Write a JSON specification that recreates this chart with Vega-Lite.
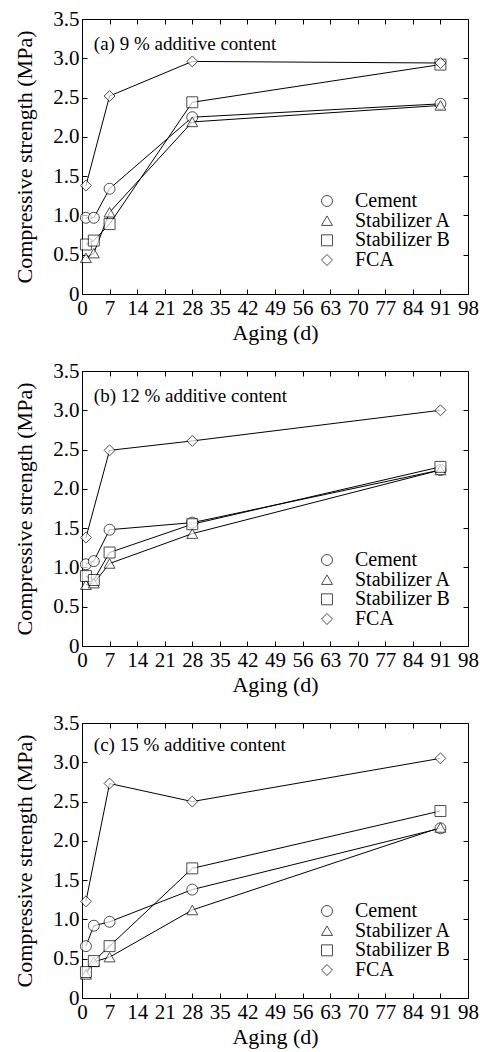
{
  "$schema": "https://vega.github.io/schema/vega-lite/v6.json",
  "background": "white",
  "padding": {"left": 13, "top": 7, "right": 4, "bottom": 4},
  "spacing": 15,
  "datasets": {
    "keys": [{"series": "Cement"}, {"series": "Stabilizer A"}, {"series": "Stabilizer B"}, {"series": "FCA"}],
    "pts": [
      {"panel": "a", "series": "Cement", "day": 1, "strength": 0.97},
      {"panel": "a", "series": "Cement", "day": 3, "strength": 0.97},
      {"panel": "a", "series": "Cement", "day": 7, "strength": 1.34},
      {"panel": "a", "series": "Cement", "day": 28, "strength": 2.25},
      {"panel": "a", "series": "Cement", "day": 91, "strength": 2.42},
      {"panel": "a", "series": "Stabilizer A", "day": 1, "strength": 0.46},
      {"panel": "a", "series": "Stabilizer A", "day": 3, "strength": 0.52},
      {"panel": "a", "series": "Stabilizer A", "day": 7, "strength": 1.04},
      {"panel": "a", "series": "Stabilizer A", "day": 28, "strength": 2.19},
      {"panel": "a", "series": "Stabilizer A", "day": 91, "strength": 2.4},
      {"panel": "a", "series": "Stabilizer B", "day": 1, "strength": 0.63},
      {"panel": "a", "series": "Stabilizer B", "day": 3, "strength": 0.68},
      {"panel": "a", "series": "Stabilizer B", "day": 7, "strength": 0.89},
      {"panel": "a", "series": "Stabilizer B", "day": 28, "strength": 2.44},
      {"panel": "a", "series": "Stabilizer B", "day": 91, "strength": 2.92},
      {"panel": "a", "series": "FCA", "day": 1, "strength": 1.38},
      {"panel": "a", "series": "FCA", "day": 7, "strength": 2.52},
      {"panel": "a", "series": "FCA", "day": 28, "strength": 2.96},
      {"panel": "a", "series": "FCA", "day": 91, "strength": 2.94},

      {"panel": "b", "series": "Cement", "day": 1, "strength": 1.04},
      {"panel": "b", "series": "Cement", "day": 3, "strength": 1.08},
      {"panel": "b", "series": "Cement", "day": 7, "strength": 1.48},
      {"panel": "b", "series": "Cement", "day": 28, "strength": 1.57},
      {"panel": "b", "series": "Cement", "day": 91, "strength": 2.24},
      {"panel": "b", "series": "Stabilizer A", "day": 1, "strength": 0.78},
      {"panel": "b", "series": "Stabilizer A", "day": 3, "strength": 0.8},
      {"panel": "b", "series": "Stabilizer A", "day": 7, "strength": 1.05},
      {"panel": "b", "series": "Stabilizer A", "day": 28, "strength": 1.43},
      {"panel": "b", "series": "Stabilizer A", "day": 91, "strength": 2.24},
      {"panel": "b", "series": "Stabilizer B", "day": 1, "strength": 0.89},
      {"panel": "b", "series": "Stabilizer B", "day": 3, "strength": 0.84},
      {"panel": "b", "series": "Stabilizer B", "day": 7, "strength": 1.19},
      {"panel": "b", "series": "Stabilizer B", "day": 28, "strength": 1.55},
      {"panel": "b", "series": "Stabilizer B", "day": 91, "strength": 2.28},
      {"panel": "b", "series": "FCA", "day": 1, "strength": 1.38},
      {"panel": "b", "series": "FCA", "day": 7, "strength": 2.49},
      {"panel": "b", "series": "FCA", "day": 28, "strength": 2.61},
      {"panel": "b", "series": "FCA", "day": 91, "strength": 3.0},

      {"panel": "c", "series": "Cement", "day": 1, "strength": 0.66},
      {"panel": "c", "series": "Cement", "day": 3, "strength": 0.92},
      {"panel": "c", "series": "Cement", "day": 7, "strength": 0.97},
      {"panel": "c", "series": "Cement", "day": 28, "strength": 1.38},
      {"panel": "c", "series": "Cement", "day": 91, "strength": 2.16},
      {"panel": "c", "series": "Stabilizer A", "day": 1, "strength": 0.3},
      {"panel": "c", "series": "Stabilizer A", "day": 3, "strength": 0.46},
      {"panel": "c", "series": "Stabilizer A", "day": 7, "strength": 0.52},
      {"panel": "c", "series": "Stabilizer A", "day": 28, "strength": 1.12},
      {"panel": "c", "series": "Stabilizer A", "day": 91, "strength": 2.17},
      {"panel": "c", "series": "Stabilizer B", "day": 1, "strength": 0.33},
      {"panel": "c", "series": "Stabilizer B", "day": 3, "strength": 0.47},
      {"panel": "c", "series": "Stabilizer B", "day": 7, "strength": 0.66},
      {"panel": "c", "series": "Stabilizer B", "day": 28, "strength": 1.65},
      {"panel": "c", "series": "Stabilizer B", "day": 91, "strength": 2.38},
      {"panel": "c", "series": "FCA", "day": 1, "strength": 1.23},
      {"panel": "c", "series": "FCA", "day": 7, "strength": 2.73},
      {"panel": "c", "series": "FCA", "day": 28, "strength": 2.5},
      {"panel": "c", "series": "FCA", "day": 91, "strength": 3.05}
    ]
  },
  "vconcat": [
    {
      "width": 386, "height": 275,
      "layer": [
        {
          "data": {"name": "pts"},
          "transform": [{"filter": "datum.panel == 'a'"}],
          "mark": {"type": "line", "color": "black", "strokeWidth": 1},
          "encoding": {
            "x": {"field": "day", "type": "quantitative", "scale": {"domain": [0, 98], "nice": false},
                  "axis": {"orient": "top", "labels": false, "title": null, "values": [0,7,14,21,28,35,42,49,56,63,70,77,84,91,98]}},
            "y": {"field": "strength", "type": "quantitative", "scale": {"domain": [0, 3.5], "nice": false},
                  "axis": {"orient": "right", "labels": false, "title": null, "values": [0,0.5,1,1.5,2,2.5,3,3.5]}},
            "detail": {"field": "series"},
            "order": {"field": "day"}
          }
        },
        {
          "data": {"name": "pts"},
          "transform": [{"filter": "datum.panel == 'a'"}],
          "mark": {"type": "point", "filled": true, "fill": "white", "stroke": "black", "strokeWidth": 1, "size": 120},
          "encoding": {
            "x": {"field": "day", "type": "quantitative", "axis": {"orient": "bottom", "title": "Aging (d)", "values": [0,7,14,21,28,35,42,49,56,63,70,77,84,91,98]}},
            "y": {"field": "strength", "type": "quantitative", "scale": {"domain": [0, 3.5], "nice": false},
                  "axis": {"orient": "left", "title": "Compressive strength (MPa)", "values": [0,0.5,1,1.5,2,2.5,3,3.5], "labelExpr": "datum.value == 0 ? '0' : format(datum.value, '.1f')"}},
            "shape": {"field": "series", "type": "nominal",
                      "scale": {"domain": ["Cement", "Stabilizer A", "Stabilizer B", "FCA"], "range": ["circle", "triangle-up", "square", "diamond"]},
                      "legend": null}
          }
        },
        {
          "data": {"name": "keys"},
          "mark": {"type": "point", "filled": true, "fill": "white", "stroke": "black", "strokeWidth": 1, "size": 120},
          "encoding": {
            "x": {"datum": 62.2, "axis": null},
            "y": {"field": "series", "type": "nominal", "axis": null, "scale": {"type": "point", "domain": ["Cement", "Stabilizer A", "Stabilizer B", "FCA"], "range": [182, 241], "padding": 0}},
            "shape": {"field": "series", "type": "nominal", "legend": null}
          }
        },
        {
          "data": {"name": "keys"},
          "mark": {"type": "text", "align": "left", "baseline": "middle", "fontSize": 20, "color": "black", "font": "Liberation Serif"},
          "encoding": {
            "x": {"datum": 69.3, "axis": null},
            "y": {"field": "series", "type": "nominal", "axis": null, "scale": {"type": "point", "domain": ["Cement", "Stabilizer A", "Stabilizer B", "FCA"], "range": [182, 241], "padding": 0}},
            "text": {"field": "series"}
          }
        },
        {
          "data": {"values": [{"label": "(a) 9 % additive content"}]},
          "mark": {"type": "text", "align": "left", "baseline": "middle", "fontSize": 19, "color": "black", "font": "Liberation Serif"},
          "encoding": {"x": {"datum": 3, "axis": null}, "y": {"datum": 3.18, "axis": null, "scale": {"domain": [0, 3.5], "nice": false}}, "text": {"field": "label"}}
        }
      ],
      "resolve": {"scale": {"y": "independent"}, "axis": {"x": "independent", "y": "independent"}}
    },
    {
      "width": 386, "height": 275,
      "layer": [
        {
          "data": {"name": "pts"},
          "transform": [{"filter": "datum.panel == 'b'"}],
          "mark": {"type": "line", "color": "black", "strokeWidth": 1},
          "encoding": {
            "x": {"field": "day", "type": "quantitative", "scale": {"domain": [0, 98], "nice": false},
                  "axis": {"orient": "top", "labels": false, "title": null, "values": [0,7,14,21,28,35,42,49,56,63,70,77,84,91,98]}},
            "y": {"field": "strength", "type": "quantitative", "scale": {"domain": [0, 3.5], "nice": false},
                  "axis": {"orient": "right", "labels": false, "title": null, "values": [0,0.5,1,1.5,2,2.5,3,3.5]}},
            "detail": {"field": "series"},
            "order": {"field": "day"}
          }
        },
        {
          "data": {"name": "pts"},
          "transform": [{"filter": "datum.panel == 'b'"}],
          "mark": {"type": "point", "filled": true, "fill": "white", "stroke": "black", "strokeWidth": 1, "size": 120},
          "encoding": {
            "x": {"field": "day", "type": "quantitative", "axis": {"orient": "bottom", "title": "Aging (d)", "values": [0,7,14,21,28,35,42,49,56,63,70,77,84,91,98]}},
            "y": {"field": "strength", "type": "quantitative", "scale": {"domain": [0, 3.5], "nice": false},
                  "axis": {"orient": "left", "title": "Compressive strength (MPa)", "values": [0,0.5,1,1.5,2,2.5,3,3.5], "labelExpr": "datum.value == 0 ? '0' : format(datum.value, '.1f')"}},
            "shape": {"field": "series", "type": "nominal",
                      "scale": {"domain": ["Cement", "Stabilizer A", "Stabilizer B", "FCA"], "range": ["circle", "triangle-up", "square", "diamond"]},
                      "legend": null}
          }
        },
        {
          "data": {"name": "keys"},
          "mark": {"type": "point", "filled": true, "fill": "white", "stroke": "black", "strokeWidth": 1, "size": 120},
          "encoding": {
            "x": {"datum": 62.2, "axis": null},
            "y": {"field": "series", "type": "nominal", "axis": null, "scale": {"type": "point", "domain": ["Cement", "Stabilizer A", "Stabilizer B", "FCA"], "range": [189, 248], "padding": 0}},
            "shape": {"field": "series", "type": "nominal", "legend": null}
          }
        },
        {
          "data": {"name": "keys"},
          "mark": {"type": "text", "align": "left", "baseline": "middle", "fontSize": 20, "color": "black", "font": "Liberation Serif"},
          "encoding": {
            "x": {"datum": 69.3, "axis": null},
            "y": {"field": "series", "type": "nominal", "axis": null, "scale": {"type": "point", "domain": ["Cement", "Stabilizer A", "Stabilizer B", "FCA"], "range": [189, 248], "padding": 0}},
            "text": {"field": "series"}
          }
        },
        {
          "data": {"values": [{"label": "(b) 12 % additive content"}]},
          "mark": {"type": "text", "align": "left", "baseline": "middle", "fontSize": 19, "color": "black", "font": "Liberation Serif"},
          "encoding": {"x": {"datum": 3, "axis": null}, "y": {"datum": 3.18, "axis": null, "scale": {"domain": [0, 3.5], "nice": false}}, "text": {"field": "label"}}
        }
      ],
      "resolve": {"scale": {"y": "independent"}, "axis": {"x": "independent", "y": "independent"}}
    },
    {
      "width": 386, "height": 275,
      "layer": [
        {
          "data": {"name": "pts"},
          "transform": [{"filter": "datum.panel == 'c'"}],
          "mark": {"type": "line", "color": "black", "strokeWidth": 1},
          "encoding": {
            "x": {"field": "day", "type": "quantitative", "scale": {"domain": [0, 98], "nice": false},
                  "axis": {"orient": "top", "labels": false, "title": null, "values": [0,7,14,21,28,35,42,49,56,63,70,77,84,91,98]}},
            "y": {"field": "strength", "type": "quantitative", "scale": {"domain": [0, 3.5], "nice": false},
                  "axis": {"orient": "right", "labels": false, "title": null, "values": [0,0.5,1,1.5,2,2.5,3,3.5]}},
            "detail": {"field": "series"},
            "order": {"field": "day"}
          }
        },
        {
          "data": {"name": "pts"},
          "transform": [{"filter": "datum.panel == 'c'"}],
          "mark": {"type": "point", "filled": true, "fill": "white", "stroke": "black", "strokeWidth": 1, "size": 120},
          "encoding": {
            "x": {"field": "day", "type": "quantitative", "axis": {"orient": "bottom", "title": "Aging (d)", "values": [0,7,14,21,28,35,42,49,56,63,70,77,84,91,98]}},
            "y": {"field": "strength", "type": "quantitative", "scale": {"domain": [0, 3.5], "nice": false},
                  "axis": {"orient": "left", "title": "Compressive strength (MPa)", "values": [0,0.5,1,1.5,2,2.5,3,3.5], "labelExpr": "datum.value == 0 ? '0' : format(datum.value, '.1f')"}},
            "shape": {"field": "series", "type": "nominal",
                      "scale": {"domain": ["Cement", "Stabilizer A", "Stabilizer B", "FCA"], "range": ["circle", "triangle-up", "square", "diamond"]},
                      "legend": null}
          }
        },
        {
          "data": {"name": "keys"},
          "mark": {"type": "point", "filled": true, "fill": "white", "stroke": "black", "strokeWidth": 1, "size": 120},
          "encoding": {
            "x": {"datum": 62.2, "axis": null},
            "y": {"field": "series", "type": "nominal", "axis": null, "scale": {"type": "point", "domain": ["Cement", "Stabilizer A", "Stabilizer B", "FCA"], "range": [188, 247], "padding": 0}},
            "shape": {"field": "series", "type": "nominal", "legend": null}
          }
        },
        {
          "data": {"name": "keys"},
          "mark": {"type": "text", "align": "left", "baseline": "middle", "fontSize": 20, "color": "black", "font": "Liberation Serif"},
          "encoding": {
            "x": {"datum": 69.3, "axis": null},
            "y": {"field": "series", "type": "nominal", "axis": null, "scale": {"type": "point", "domain": ["Cement", "Stabilizer A", "Stabilizer B", "FCA"], "range": [188, 247], "padding": 0}},
            "text": {"field": "series"}
          }
        },
        {
          "data": {"values": [{"label": "(c) 15 % additive content"}]},
          "mark": {"type": "text", "align": "left", "baseline": "middle", "fontSize": 19, "color": "black", "font": "Liberation Serif"},
          "encoding": {"x": {"datum": 3, "axis": null}, "y": {"datum": 3.22, "axis": null, "scale": {"domain": [0, 3.5], "nice": false}}, "text": {"field": "label"}}
        }
      ],
      "resolve": {"scale": {"y": "independent"}, "axis": {"x": "independent", "y": "independent"}}
    }
  ],
  "config": {
    "view": {"stroke": "black", "strokeWidth": 1},
    "axis": {
      "grid": false,
      "domain": false,
      "ticks": true,
      "tickColor": "black",
      "tickSize": -5,
      "tickWidth": 1,
      "labelFont": "Liberation Serif",
      "labelFontSize": 21,
      "labelColor": "black",
      "labelPadding": 8,
      "labelFlush": false,
      "labelOverlap": false,
      "titleFont": "Liberation Serif",
      "titleFontSize": 22,
      "titleFontWeight": "normal",
      "titleColor": "black"
    },
    "axisX": {"titlePadding": 4},
    "axisY": {"titlePadding": 16}
  }
}
